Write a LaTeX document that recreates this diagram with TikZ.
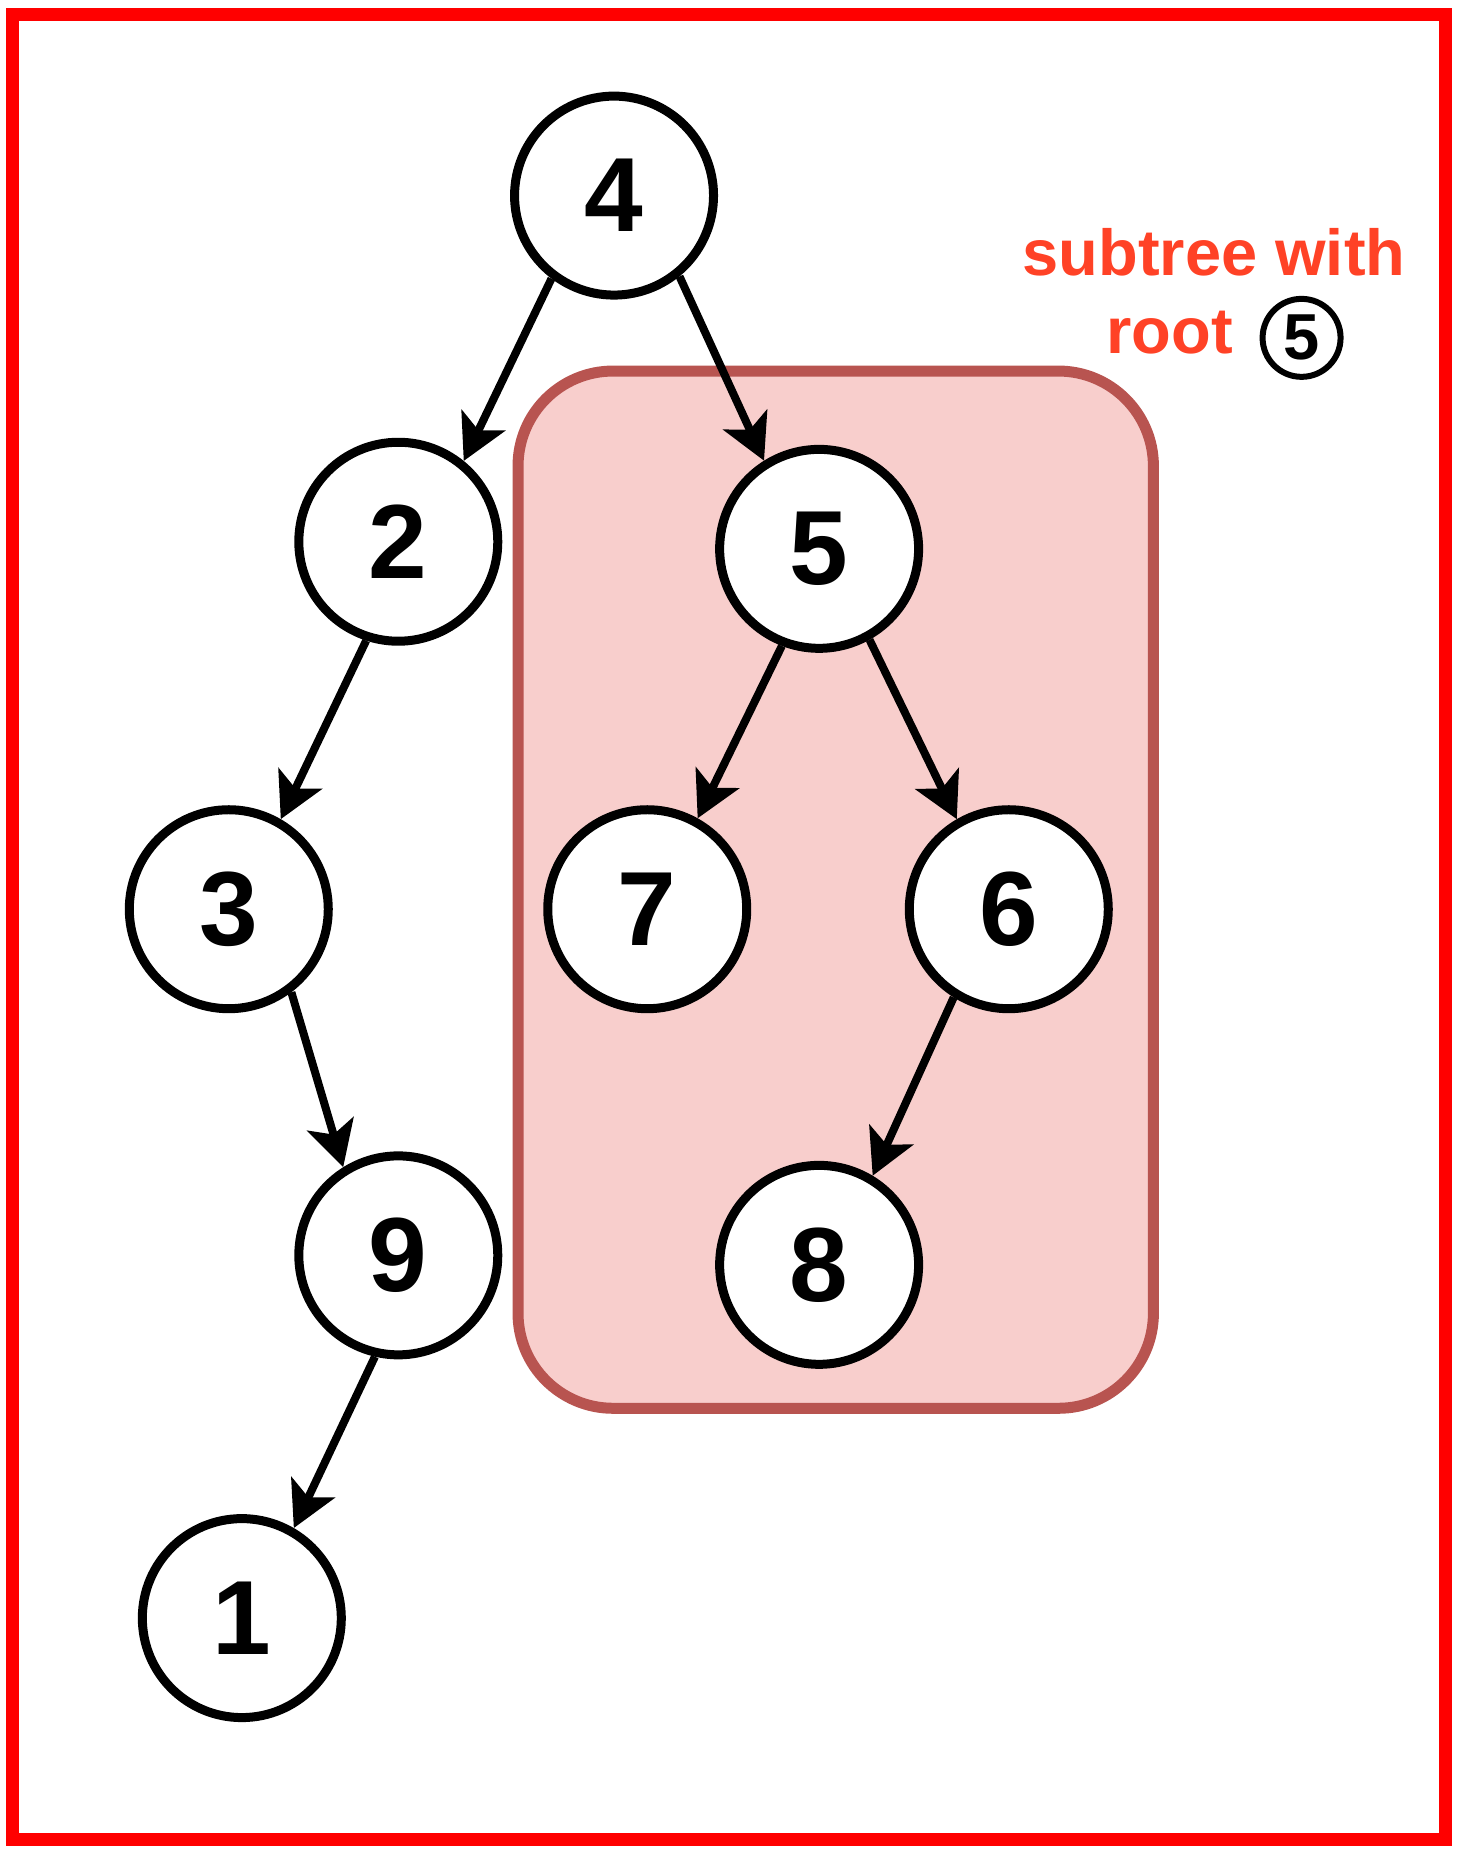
\documentclass[tikz,border=0pt]{standalone}
\usepackage{fontspec}
\setmainfont{Liberation Sans}
\usepackage{tikz}
\usetikzlibrary{arrows.meta}
\definecolor{labelred}{RGB}{255,66,38}
\definecolor{boxfill}{HTML}{F8CECC}
\definecolor{boxdraw}{HTML}{B85450}

\begin{document}
\begin{tikzpicture}[x=0.011854cm,y=-0.011854cm,
  vert/.style={draw,fill=white,circle,line width=0.09cm,minimum size=1.99cm,inner sep=0pt,font=\fontsize{30}{36}\selectfont\bfseries},
  edge/.style={line width=0.08cm,->},
  >={Stealth[length=0.45cm,width=0.48cm,inset=0.11cm]},
  lbl/.style={inner sep=0pt,anchor=base west,text=labelred,font=\fontsize{18.5}{22}\selectfont\bfseries}]
\useasboundingbox (0,0) rectangle (1235,1565.7);
\draw[red,line width=0.13cm] (10.4,12.4) rectangle (1219,1552);

% subtree box
\draw[boxdraw,fill=boxfill,line width=0.11cm,rounded corners=0.95cm] (437,313) rectangle (973,1188);

\node[vert] (n4) at (518,165) {4};
\node[vert] (n2) at (336,457) {2};
\node[vert] (n5) at (691,463) {5};
\node[vert] (n3) at (193,767) {3};
\node[vert] (n7) at (546,767) {7};
\node[vert] (n6) at (851,767) {6};
\node[vert] (n9) at (336,1059) {9};
\node[vert] (n8) at (691,1067) {8};
\node[vert] (n1) at (204,1365) {1};

\draw[edge] (n4.233) -- (n2.51);
\draw[edge] (n4.309) -- (n5.122);
\draw[edge] (n2.252) -- (n3.60);
\draw[edge] (n5.249) -- (n7.61);
\draw[edge] (n5.299) -- (n6.120);
\draw[edge] (n3.307) -- (n9.122);
\draw[edge] (n6.238) -- (n8.59);
\draw[edge] (n9.257) -- (n1.60);

% label
\node[lbl] (sub) at (862,232) {subtree with};
\node[lbl] (root) at (933,298) {root};
\node[draw,circle,line width=0.06cm,minimum size=0.78cm,inner sep=0pt,font=\fontsize{18.5}{22}\selectfont\bfseries] (c5) at (1098,285) {5};

\end{tikzpicture}
\end{document}
